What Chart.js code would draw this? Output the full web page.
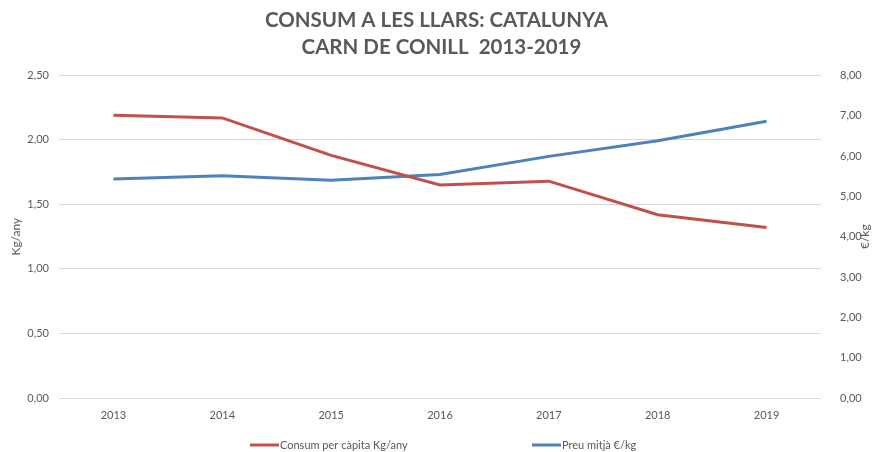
<!DOCTYPE html>
<html>
<head>
<meta charset="utf-8">
<script src="https://cdn.jsdelivr.net/npm/chart.js@4/dist/chart.umd.min.js"></script>
<style>
html,body{margin:0;padding:0;background:#fff;}
#wrap{width:873px;height:452px;position:relative;}
</style>
</head>
<body>
<div id="wrap"><canvas id="c"></canvas></div>
<script>
const years = ['2013','2014','2015','2016','2017','2018','2019'];
const consum = [2.19, 2.17, 1.88, 1.65, 1.68, 1.42, 1.32];
const preu = [5.43, 5.51, 5.40, 5.54, 5.99, 6.38, 6.86];
const titleLines = ['CONSUM A LES LLARS: CATALUNYA', '  CARN DE CONILL  2013-2019'];
const seriesNames = ['Consum per càpita Kg/any', 'Preu mitjà €/kg'];
const axisTitles = ['Kg/any', '€/kg'];

const FONT = 'Lato, "Open Sans", sans-serif';
const GREY = '#595959';

const extrasPlugin = {
  id: 'extras',
  afterDraw(chart) {
    const ctx = chart.ctx;
    const area = chart.chartArea;
    ctx.save();
    // right axis title, reading bottom-to-top
    ctx.font = '12px ' + FONT;
    ctx.fillStyle = GREY;
    ctx.textAlign = 'center';
    ctx.textBaseline = 'middle';
    ctx.translate(865, (area.top + area.bottom) / 2);
    ctx.rotate(-Math.PI / 2);
    ctx.fillText(axisTitles[1], 0, 0);
    ctx.restore();

    // legend
    const y = 445;
    const starts = [250, 532];
    ctx.save();
    ctx.font = '11px ' + FONT;
    ctx.textBaseline = 'middle';
    ctx.textAlign = 'left';
    chart.data.datasets.forEach((ds, i) => {
      const x = starts[i];
      ctx.strokeStyle = ds.borderColor;
      ctx.lineWidth = 3;
      ctx.beginPath();
      ctx.moveTo(x, y);
      ctx.lineTo(x + 29, y);
      ctx.stroke();
      ctx.fillStyle = GREY;
      ctx.fillText(ds.label, x + 30, y);
    });
    ctx.restore();
  }
};

new Chart(document.getElementById('c'), {
  type: 'line',
  data: {
    labels: years,
    datasets: [
      { label: seriesNames[0], data: consum, borderColor: '#C0504D', backgroundColor: '#C0504D', borderWidth: 3, pointRadius: 0, tension: 0, yAxisID: 'y' },
      { label: seriesNames[1], data: preu, borderColor: '#4F81BD', backgroundColor: '#4F81BD', borderWidth: 3, pointRadius: 0, tension: 0, yAxisID: 'y1' }
    ]
  },
  options: {
    responsive: true,
    maintainAspectRatio: false,
    animation: false,
    layout: { padding: { top: 0, bottom: 30, left: 0, right: 0 } },
    plugins: {
      legend: { display: false },
      tooltip: { enabled: false },
      title: {
        display: true,
        text: titleLines,
        color: GREY,
        font: { family: FONT, size: 20.5, weight: 'bold', lineHeight: 1.3 },
        padding: { top: 7, bottom: 15 }
      }
    },
    scales: {
      x: {
        offset: true,
        grid: { display: false, offset: true },
        border: { display: false },
        ticks: { color: GREY, font: { family: FONT, size: 11 }, padding: 3, maxRotation: 0 },
        afterFit(s) { s.height = 24; }
      },
      y: {
        position: 'left',
        min: 0, max: 2.5,
        grid: { color: '#d9d9d9', drawTicks: false, lineWidth: 1 },
        border: { display: false },
        ticks: { stepSize: 0.5, color: GREY, font: { family: FONT, size: 11 }, padding: 10,
          callback: v => v.toFixed(2).replace('.', ',') },
        title: { display: true, text: axisTitles[0], color: GREY, font: { family: FONT, size: 12 }, padding: { top: 9, bottom: 0 } },
        afterFit(s) { s.width = 59; }
      },
      y1: {
        position: 'right',
        min: 0, max: 8,
        grid: { display: false },
        border: { display: false },
        ticks: { stepSize: 1, color: GREY, font: { family: FONT, size: 11 }, padding: 11,
          callback: v => v.toFixed(2).replace('.', ',') },
        afterFit(s) { s.width = 52; }
      }
    }
  },
  plugins: [extrasPlugin]
});
</script>
</body>
</html>
